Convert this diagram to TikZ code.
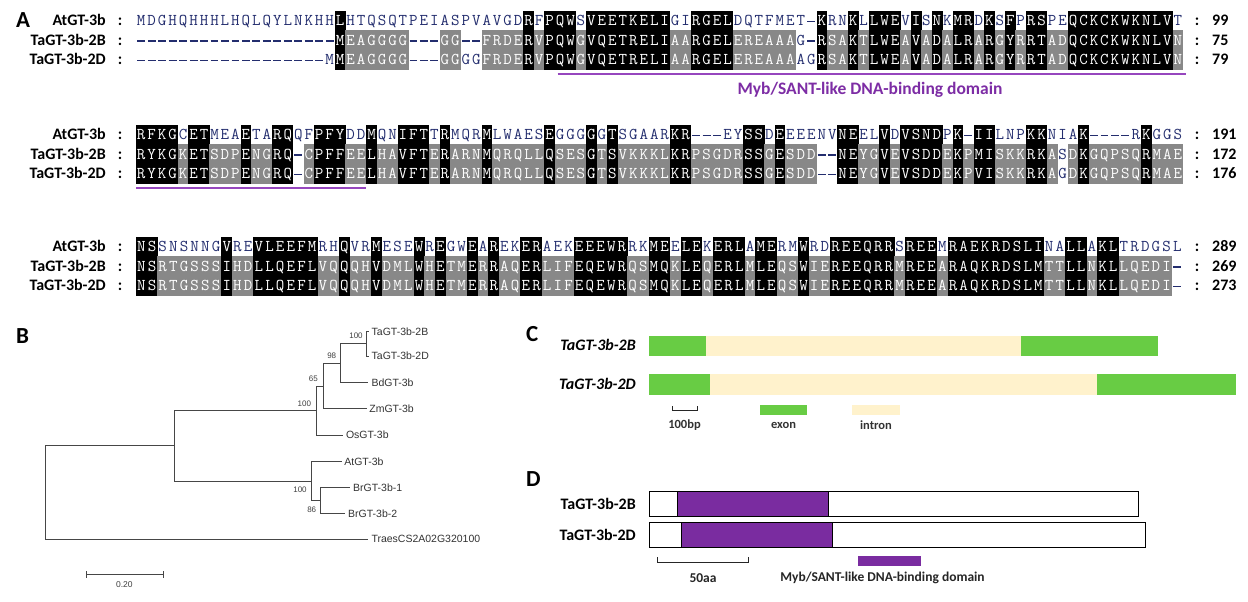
\documentclass[tikz,border=0pt]{standalone}
\usepackage{fontspec}
\setmainfont{Carlito}
\newfontfamily\arialf{Liberation Sans}
\definecolor{seqnavy}{RGB}{35,45,110}
\definecolor{hlgray}{RGB}{136,136,136}
\definecolor{mybpurple}{RGB}{125,45,165}
\definecolor{mybline}{RGB}{150,70,190}
\definecolor{exongreen}{RGB}{104,204,68}
\definecolor{intronbeige}{RGB}{255,242,204}
\definecolor{domainpurple}{RGB}{122,44,160}
\definecolor{treegray}{RGB}{70,70,70}
\newcommand\seqfont{\ttfamily\fontsize{16.5}{16.5}\selectfont}
\newcommand\rowfont{\bfseries\fontsize{16}{16}\selectfont}
\newcommand\panelfont{\bfseries\fontsize{23}{23}\selectfont}
\newcommand\leaffont{\arialf\fontsize{10.5}{10.5}\selectfont}
\newcommand\bootfont{\arialf\fontsize{8}{8}\selectfont}
\newcommand\glabfont{\bfseries\itshape\fontsize{16}{16}\selectfont}
\newcommand\smallfont{\bfseries\fontsize{12.5}{12.5}\selectfont}
\newcommand\legfont{\bfseries\fontsize{13.5}{13.5}\selectfont}
\tikzset{
  hlk/.style={fill=black},
  hlg/.style={fill=hlgray},
  seqn/.style={inner sep=0pt, anchor=base, text=seqnavy, font=\seqfont},
  seqw/.style={inner sep=0pt, anchor=base, text=white, font=\seqfont},
  seqdash/.style={draw=seqnavy, line width=1.1pt},
  rowlab/.style={inner sep=0pt, anchor=base east, font=\rowfont},
  colonlab/.style={inner sep=0pt, anchor=base, font=\rowfont},
  numlab/.style={inner sep=0pt, anchor=base west, font=\rowfont},
  panellab/.style={inner sep=0pt, anchor=base west, font=\panelfont},
  tree/.style={draw=treegray, line width=0.8pt},
  leaf/.style={inner sep=0pt, anchor=west, font=\leaffont, text=black!80},
  boot/.style={inner sep=0pt, font=\bootfont, text=black!75},
  glab/.style={inner sep=0pt, anchor=base east, font=\glabfont},
  plab/.style={inner sep=0pt, anchor=base east, font=\rowfont},
  smalllab/.style={inner sep=0pt, font=\smallfont, text=black!80},
  leglab/.style={inner sep=0pt, font=\legfont, text=black!85},
  protbox/.style={draw=black, line width=0.9pt},
  scalebar/.style={draw=black!85, line width=0.9pt}
}
\ExplSyntaxOn
\bool_new:N \l__al_fill_bool
\bool_new:N \l__al_ab_bool
\bool_new:N \l__al_ac_bool
\bool_new:N \l__al_bc_bool
\str_new:N \l__al_a_str
\str_new:N \l__al_b_str
\str_new:N \l__al_c_str
\tl_new:N \l__al_ca_tl
\tl_new:N \l__al_cb_tl
\tl_new:N \l__al_cc_tl
\tl_new:N \l__al_ka_tl
\tl_new:N \l__al_kb_tl
\tl_new:N \l__al_kc_tl
\tl_new:N \l__al_xa_tl
\tl_new:N \l__al_xb_tl
\tl_new:N \l__al_xm_tl
\tl_new:N \l__al_xd_tl
\tl_new:N \l__al_xe_tl
\tl_new:N \l__al_ya_tl
\tl_new:N \l__al_yb_tl
\tl_new:N \l__al_ym_tl
\tl_new:N \l__al_yt_tl
\fp_new:N \l__al_xz_fp
\fp_new:N \l__al_top_fp
\fp_new:N \l__al_w_fp
\fp_new:N \l__al_h_fp
\cs_new:Npn \__al_grp:n #1
  {
    \str_case:nnF {#1}
      {
        {L}{1} {I}{1} {V}{1} {M}{1}
        {D}{2} {N}{2}
        {E}{3} {Q}{3}
        {S}{4} {T}{4}
        {K}{5} {R}{5}
        {F}{6} {Y}{6} {W}{6}
      }
      {#1}
  }
\cs_new_protected:Npn \__al_sim:nnN #1#2#3
  {
    \bool_set_false:N #3
    \str_if_eq:nnF {#1} {-}
      {
        \str_if_eq:nnF {#2} {-}
          {
            \str_if_eq:eeT { \__al_grp:n {#1} } { \__al_grp:n {#2} }
              { \bool_set_true:N #3 }
          }
      }
  }
\cs_generate_variant:Nn \__al_sim:nnN { VVN }
\cs_new_protected:Npn \__al_cell:nnnn #1#2#3#4
  {
    \tl_set:Nx \l__al_xa_tl { \fp_eval:n { \l__al_xz_fp + (#1 - 1) * \l__al_w_fp } }
    \tl_set:Nx \l__al_xb_tl { \fp_eval:n { \l__al_xz_fp + (#1) * \l__al_w_fp + 0.3 } }
    \tl_set:Nx \l__al_xm_tl { \fp_eval:n { \l__al_xz_fp + (#1 - 0.5) * \l__al_w_fp } }
    \tl_set:Nx \l__al_xd_tl { \fp_eval:n { \l__al_xz_fp + (#1 - 1) * \l__al_w_fp + 1.3 } }
    \tl_set:Nx \l__al_xe_tl { \fp_eval:n { \l__al_xz_fp + (#1) * \l__al_w_fp - 1.3 } }
    \tl_set:Nx \l__al_ya_tl { \fp_eval:n { \l__al_top_fp + (#2) * \l__al_h_fp } }
    \tl_set:Nx \l__al_yb_tl { \fp_eval:n { \l__al_top_fp + (#2 + 1) * \l__al_h_fp + 0.3 } }
    \tl_set:Nx \l__al_ym_tl { \fp_eval:n { \l__al_top_fp + (#2 + 0.5) * \l__al_h_fp + 1 } }
    \tl_set:Nx \l__al_yt_tl { \fp_eval:n { \l__al_top_fp + (#2 + 0.5) * \l__al_h_fp + 5.1 } }
    \bool_if:NTF \l__al_fill_bool
      {
        \str_if_eq:nnT {#4} {k}
          { \fill [hlk] (\l__al_xa_tl , \l__al_ya_tl) rectangle (\l__al_xb_tl , \l__al_yb_tl) ; }
        \str_if_eq:nnT {#4} {g}
          { \fill [hlg] (\l__al_xa_tl , \l__al_ya_tl) rectangle (\l__al_xb_tl , \l__al_yb_tl) ; }
      }
      {
        \str_if_eq:nnTF {#3} {-}
          { \draw [seqdash] (\l__al_xd_tl , \l__al_ym_tl) -- (\l__al_xe_tl , \l__al_ym_tl) ; }
          {
            \str_if_eq:nnTF {#4} {n}
              { \node [seqn] at (\l__al_xm_tl , \l__al_yt_tl) {#3} ; }
              { \node [seqw] at (\l__al_xm_tl , \l__al_yt_tl) {#3} ; }
          }
      }
  }
\cs_generate_variant:Nn \__al_cell:nnnn { nnVV }
\cs_new_protected:Npn \__al_pass:
  {
    \int_step_inline:nn { \str_count:N \l__al_a_str }
      {
        \tl_set:Nx \l__al_ca_tl { \str_item:Nn \l__al_a_str {##1} }
        \tl_set:Nx \l__al_cb_tl { \str_item:Nn \l__al_b_str {##1} }
        \tl_set:Nx \l__al_cc_tl { \str_item:Nn \l__al_c_str {##1} }
        \__al_sim:VVN \l__al_ca_tl \l__al_cb_tl \l__al_ab_bool
        \__al_sim:VVN \l__al_ca_tl \l__al_cc_tl \l__al_ac_bool
        \__al_sim:VVN \l__al_cb_tl \l__al_cc_tl \l__al_bc_bool
        \tl_set:Nn \l__al_ka_tl {n}
        \tl_set:Nn \l__al_kb_tl {n}
        \tl_set:Nn \l__al_kc_tl {n}
        \bool_if:nTF { \l__al_ab_bool && \l__al_ac_bool && \l__al_bc_bool }
          {
            \tl_set:Nn \l__al_ka_tl {k}
            \tl_set:Nn \l__al_kb_tl {k}
            \tl_set:Nn \l__al_kc_tl {k}
          }
          {
            \bool_if:NTF \l__al_bc_bool
              { \tl_set:Nn \l__al_kb_tl {g} \tl_set:Nn \l__al_kc_tl {g} }
              {
                \bool_if:NTF \l__al_ab_bool
                  { \tl_set:Nn \l__al_ka_tl {g} \tl_set:Nn \l__al_kb_tl {g} }
                  {
                    \bool_if:NT \l__al_ac_bool
                      { \tl_set:Nn \l__al_ka_tl {g} \tl_set:Nn \l__al_kc_tl {g} }
                  }
              }
          }
        \__al_cell:nnVV {##1} {0} \l__al_ca_tl \l__al_ka_tl
        \__al_cell:nnVV {##1} {1} \l__al_cb_tl \l__al_kb_tl
        \__al_cell:nnVV {##1} {2} \l__al_cc_tl \l__al_kc_tl
      }
  }
\NewDocumentCommand \alblock { m m m m m m m }
  {
    \fp_set:Nn \l__al_xz_fp {#1}
    \fp_set:Nn \l__al_top_fp {#2}
    \fp_set:Nn \l__al_w_fp {#3}
    \fp_set:Nn \l__al_h_fp {#4}
    \str_set:Nn \l__al_a_str {#5}
    \str_set:Nn \l__al_b_str {#6}
    \str_set:Nn \l__al_c_str {#7}
    \bool_set_true:N \l__al_fill_bool
    \__al_pass:
    \bool_set_false:N \l__al_fill_bool
    \__al_pass:
  }
\ExplSyntaxOff
\begin{document}
\begin{tikzpicture}[x=1pt,y=-1pt]
\fill[white] (0,0) rectangle (1248,602);
\useasboundingbox (0,0) rectangle (1248,602);

% ---------------- Panel A: alignment ----------------
\alblock{136}{10.75}{10.47}{19.5}
{MDGHQHHHLHQLQYLNKHHLHTQSQTPEIASPVAVGDRFPQWSVEETKELIGIRGELDQTFMET-KRNKLLWEVISNKMRDKSFPRSPEQCKCKWKNLVT}
{-------------------MEAGGGG---GG--FRDERVPQWGVQETRELIAARGELEREAAAG-RSAKTLWEAVADALRARGYRRTADQCKCKWKNLVN}
{------------------MMEAGGGG---GGGGFRDERVPQWGVQETRELIAARGELEREAAAAGRSAKTLWEAVADALRARGYRRTADQCKCKWKNLVN}
\alblock{136}{124.75}{10.47}{19.5}
{RFKGCETMEAETARQQFPFYDDMQNIFTTRMQRMLWAESEGGGGGTSGAARKR---EYSSDEEEENVNEELVDVSNDPK-IILNPKKNIAK----RKGGS}
{RYKGKETSDPENGRQ-CPFFEELHAVFTERARNMQRQLLQSESGTSVKKKLKRPSGDRSSGESDD--NEYGVEVSDDEKPMISKKRKASDKGQPSQRMAE}
{RYKGKETSDPENGRQ-CPFFEELHAVFTERARNMQRQLLQSESGTSVKKKLKRPSGDRSSGESDD--NEYGVEVSDDEKPVISKKRKAGDKGQPSQRMAE}
\alblock{136}{236.75}{10.68}{19.5}
{NSSNSNNGVREVLEEFMRHQVRMESEWREGWEAREKERAEKEEEWRRKMEELEKERLAMERMWRDREEQRRSREEMRAEKRDSLINALLAKLTRDGSL}
{NSRTGSSSIHDLLQEFLVQQQHVDMLWHETMERRAQERLIFEQEWRQSMQKLEQERLMLEQSWIEREEQRRMREEARAQKRDSLMTTLLNKLLQEDI-}
{NSRTGSSSIHDLLQEFLVQQQHVDMLWHETMERRAQERLIFEQEWRQSMQKLEQERLMLEQSWIEREEQRRMREEARAQKRDSLMTTLLNKLLQEDI-}

\node[panellab] (labA) at (16,27.5) {A};
\foreach \yy/\na/\nb/\nc [count=\i] in {25.6/99/75/79, 139.6/191/172/176, 251.6/289/269/273}{
  \node[rowlab] (ra\i) at (106,\yy) {AtGT-3b};
  \node[rowlab] (rb\i) at (106,\yy+19.5) {TaGT-3b-2B};
  \node[rowlab] (rc\i) at (106,\yy+39) {TaGT-3b-2D};
  \node[colonlab] (ca\i) at (120,\yy) {:};
  \node[colonlab] (cb\i) at (120,\yy+19.5) {:};
  \node[colonlab] (cc\i) at (120,\yy+39) {:};
  \node[colonlab] (da\i) at (1197,\yy) {:};
  \node[colonlab] (db\i) at (1197,\yy+19.5) {:};
  \node[colonlab] (dc\i) at (1197,\yy+39) {:};
  \node[numlab] (na\i) at (1212,\yy) {\na};
  \node[numlab] (nb\i) at (1212,\yy+19.5) {\nb};
  \node[numlab] (nc\i) at (1212,\yy+39) {\nc};
}
\coordinate (ul1a) at (557.7,74);
\coordinate (ul1b) at (1185.7,74);
\draw[mybline, line width=1.4pt] (ul1a) -- (ul1b);
\coordinate (ul2a) at (136,188);
\coordinate (ul2b) at (366,188);
\draw[mybline, line width=1.4pt] (ul2a) -- (ul2b);
\node[inner sep=0pt, font=\bfseries\fontsize{17.5}{17.5}\selectfont, text=mybpurple] (domlab) at (870,90) {Myb/SANT-like DNA-binding domain};

% ---------------- Panel B: tree ----------------
\node[panellab] (labB) at (16,343.5) {B};
\coordinate (root) at (45,492.5);
\coordinate (n7) at (174,445.75);
\coordinate (n4) at (316.7,410.45);
\coordinate (n3) at (323.3,385.9);
\coordinate (n2) at (340,363.1);
\coordinate (n1) at (366,343.85);
\coordinate (n5) at (311.7,481);
\coordinate (n6) at (320.7,500.3);
\coordinate (tTaB) at (369,331.7);
\coordinate (tTaD) at (369,356);
\coordinate (tBd) at (368.3,382.3);
\coordinate (tZm) at (366.7,408.7);
\coordinate (tOs) at (343.3,435);
\coordinate (tAt) at (341.7,461.7);
\coordinate (tBr1) at (350,487.3);
\coordinate (tBr2) at (345,513.3);
\coordinate (tTr) at (368.3,539.3);
\draw[tree] (root) |- (n7);
\draw[tree] (root) |- (tTr);
\draw[tree] (n7) |- (n4);
\draw[tree] (n7) |- (n5);
\draw[tree] (n4) |- (n3);
\draw[tree] (n4) |- (tOs);
\draw[tree] (n3) |- (n2);
\draw[tree] (n3) |- (tZm);
\draw[tree] (n2) |- (n1);
\draw[tree] (n2) |- (tBd);
\draw[tree] (n1) |- (tTaB);
\draw[tree] (n1) |- (tTaD);
\draw[tree] (n5) |- (tAt);
\draw[tree] (n5) |- (n6);
\draw[tree] (n6) |- (tBr1);
\draw[tree] (n6) |- (tBr2);
\node[leaf] (lTaB) at ([xshift=2.5pt]tTaB) {TaGT-3b-2B};
\node[leaf] (lTaD) at ([xshift=2.5pt]tTaD) {TaGT-3b-2D};
\node[leaf] (lBd) at ([xshift=3pt]tBd) {BdGT-3b};
\node[leaf] (lZm) at ([xshift=2.5pt]tZm) {ZmGT-3b};
\node[leaf] (lOs) at ([xshift=2.5pt]tOs) {OsGT-3b};
\node[leaf] (lAt) at ([xshift=2.5pt]tAt) {AtGT-3b};
\node[leaf] (lBr1) at ([xshift=3pt]tBr1) {BrGT-3b-1};
\node[leaf] (lBr2) at ([xshift=3pt]tBr2) {BrGT-3b-2};
\node[leaf] (lTr) at ([xshift=3pt]tTr) {TraesCS2A02G320100};
\node[boot] (b1) at (356,336) {100};
\node[boot] (b2) at (331.7,356) {98};
\node[boot] (b3) at (313.3,379) {65};
\node[boot] (b4) at (304.3,403.7) {100};
\node[boot] (b5) at (300,489.3) {100};
\node[boot] (b6) at (311.7,510) {86};
\coordinate (sb1) at (86,574);
\coordinate (sb2) at (163.3,574);
\draw[tree] (sb1) -- (sb2);
\draw[tree] ([yshift=-3.5pt]sb1) -- ([yshift=3.5pt]sb1);
\draw[tree] ([yshift=-3.5pt]sb2) -- ([yshift=3.5pt]sb2);
\node[boot, font=\arialf\fontsize{8.5}{8.5}\selectfont] (sblab) at (124.3,585) {0.20};

% ---------------- Panel C: gene structure ----------------
\node[panellab] (labC) at (526,341.5) {C};
\node[glab] (gB) at (636,350.3) {TaGT-3b-2B};
\node[glab] (gD) at (636,389.8) {TaGT-3b-2D};
\fill[exongreen] (649,336) rectangle (706,356);
\fill[intronbeige] (706,336) rectangle (1021,356);
\fill[exongreen] (1021,336) rectangle (1158,356);
\fill[exongreen] (649,374) rectangle (710,395);
\fill[intronbeige] (710,374) rectangle (1097,395);
\fill[exongreen] (1097,374) rectangle (1236,395);
\draw[scalebar] (672,406) -- (672,410.5) -- (697,410.5) -- (697,406);
\node[smalllab] (bp) at (684.5,425) {100bp};
\fill[exongreen] (760,405) rectangle (807,414.5);
\node[smalllab] (exl) at (783.5,425.5) {exon};
\fill[intronbeige] (852,405) rectangle (900,414.5);
\node[smalllab] (inl) at (876,425.5) {intron};

% ---------------- Panel D: protein structure ----------------
\node[panellab] (labD) at (526,486) {D};
\node[plab] (pB) at (636,509.5) {TaGT-3b-2B};
\node[plab] (pD) at (636,540.3) {TaGT-3b-2D};
\fill[white] (649,491) rectangle (1138,516);
\fill[domainpurple] (677,491) rectangle (828,516);
\draw[protbox] (649,491) rectangle (1138,516);
\draw[protbox] (677,491) -- (677,516);
\draw[protbox] (828,491) -- (828,516);
\fill[white] (649,522) rectangle (1145,547);
\fill[domainpurple] (681,522) rectangle (832,547);
\draw[protbox] (649,522) rectangle (1145,547);
\draw[protbox] (681,522) -- (681,547);
\draw[protbox] (832,522) -- (832,547);
\draw[scalebar] (657.5,557) -- (657.5,562) -- (748.5,562) -- (748.5,557);
\node[leglab] (aa) at (703,578) {50aa};
\fill[domainpurple] (858,556) rectangle (921,565.5);
\node[leglab] (dleg) at (882.5,578) {Myb/SANT-like DNA-binding domain};
\end{tikzpicture}
\end{document}
